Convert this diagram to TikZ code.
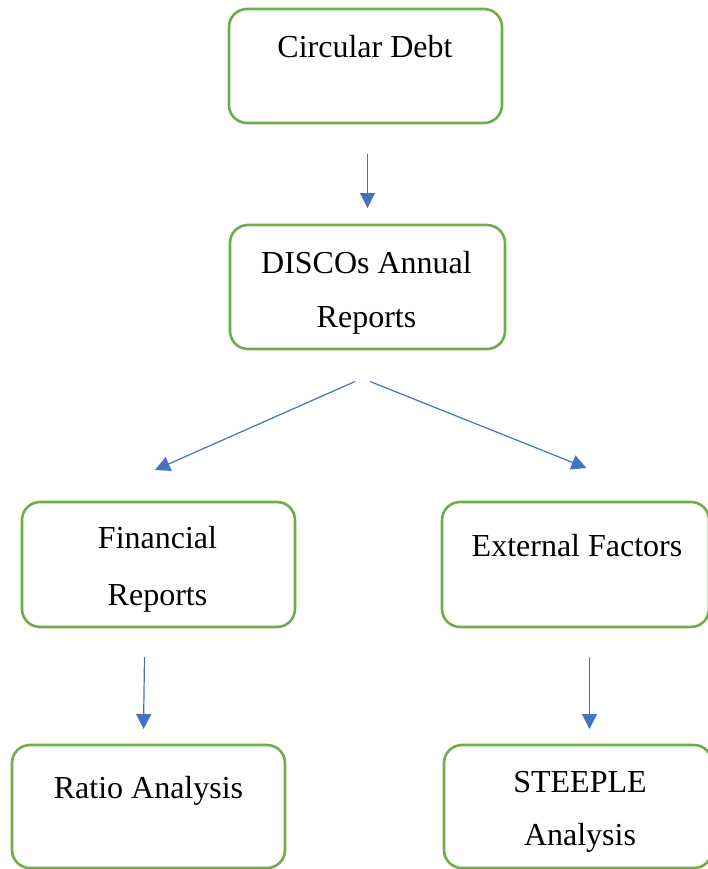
\documentclass[tikz,border=0pt]{standalone}
\usepackage{fontspec}
\setmainfont{Liberation Serif}
\usetikzlibrary{arrows.meta}
\definecolor{boxgreen}{HTML}{70AD47}
\definecolor{arrowblue}{HTML}{4472C4}
\begin{document}
\begin{tikzpicture}[x=1pt,y=-1pt,
  box/.style={draw=boxgreen, line width=2.6pt, rounded corners=18pt,
    minimum width=#1, inner sep=0pt, fill=none},
  lbl/.style={inner sep=0pt, outer sep=0pt, anchor=base, align=center,
    font=\fontsize{32}{55}\selectfont},
  flow/.style={draw=arrowblue, line width=1.2pt,
    -{Triangle[width=15pt,length=15pt]}}]
\useasboundingbox (0,0) rectangle (707,869);
% boxes
\node[box=273pt, minimum height=114pt] (b1) at (365.5,66) {};
\node[box=275pt, minimum height=124pt] (b2) at (367.5,287) {};
\node[box=273pt, minimum height=125pt] (b3) at (158.5,564.5) {};
\node[box=267pt, minimum height=125pt] (b4) at (575.5,564.5) {};
\node[box=273pt, minimum height=123pt] (b5) at (148.5,806.5) {};
\node[box=268pt, minimum height=123pt] (b6) at (578,806.5) {};
% labels
\node[lbl] (t1) at (365,58) {Circular Debt};
\node[lbl] (t2a) at (366.5,273) {DISCOs Annual};
\node[lbl] (t2b) at (366.5,327) {Reports};
\node[lbl] (t3a) at (157.5,548) {Financial};
\node[lbl] (t3b) at (157.5,605) {Reports};
\node[lbl] (t4) at (577,556) {External Factors};
\node[lbl] (t5) at (148.5,798) {Ratio Analysis};
\node[lbl] (t6a) at (580,792) {STEEPLE};
\node[lbl] (t6b) at (580,845) {Analysis};
% arrow ends
\coordinate (a1s) at (367.5,154);
\coordinate (a1e) at (367.5,208);
\coordinate (a2s) at (355,381.5);
\coordinate (a2e) at (155,470);
\coordinate (a3s) at (370,381.5);
\coordinate (a3e) at (586.5,468);
\coordinate (a4s) at (144.5,657);
\coordinate (a4e) at (143.5,729);
\coordinate (a5s) at (589.5,657);
\coordinate (a5e) at (589.5,729);
% connectors
\draw[flow] (a1s) -- (a1e);
\draw[flow] (a2s) -- (a2e);
\draw[flow] (a3s) -- (a3e);
\draw[flow] (a4s) -- (a4e);
\draw[flow] (a5s) -- (a5e);
\end{tikzpicture}
\end{document}
